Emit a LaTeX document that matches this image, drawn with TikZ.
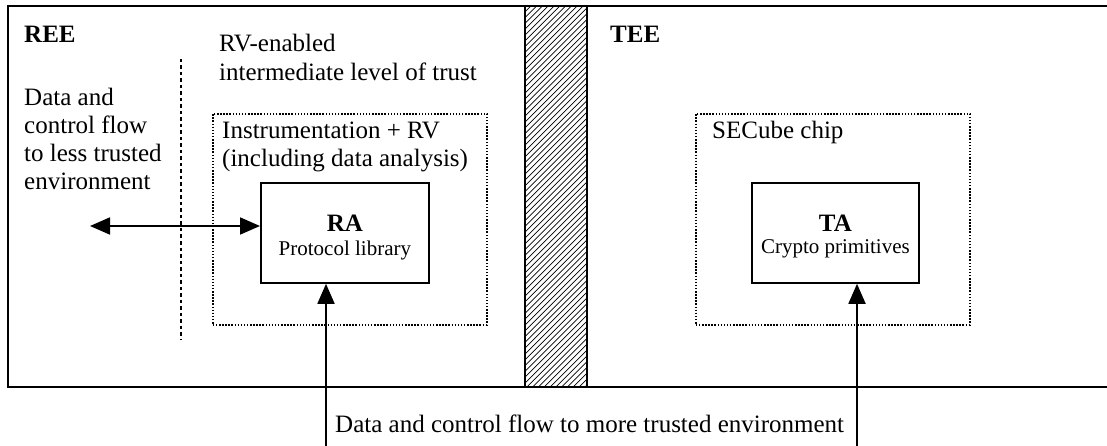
\documentclass[tikz,border=0pt]{standalone}
\usepackage{fontspec}
\setmainfont{Liberation Serif}
\usetikzlibrary{arrows.meta,calc}
\begin{document}
\begin{tikzpicture}[x=1pt,y=-1pt,
  txt/.style={inner sep=0pt,anchor=base west,font=\fontsize{25}{28}\selectfont},
  btxt/.style={inner sep=0pt,anchor=base west,font=\fontsize{25}{28}\selectfont\bfseries},
  dotbox/.style={draw,line width=1.6pt,dash pattern=on 1.5pt off 1.6pt,anchor=north west,inner sep=0pt},
  solidbox/.style={draw,line width=1.8pt,fill=white,anchor=north west,inner sep=0pt},
  lbl/.style={inner sep=0pt,anchor=base,font=\fontsize{21}{25}\selectfont},
  blbl/.style={inner sep=0pt,anchor=base,font=\fontsize{25}{25}\selectfont\bfseries},
  flow/.style={line width=1.8pt,-{Triangle[length=20pt,width=17pt]}},
  bflow/.style={line width=1.8pt,{Triangle[length=20pt,width=17pt]}-{Triangle[length=20pt,width=17pt]}}]
\useasboundingbox (0,0) rectangle (1107,446);
% frame
\draw[line width=2.2pt] (1112,6) -- (8,6) -- (8,387) -- (1112,387);
% hatched separator
\begin{scope}
\clip (525,6) rectangle (587,387);
\foreach \i in {0,5.8,...,460} {\draw[line width=0.7pt] (525,6+\i) -- (587,6+\i-62);}
\end{scope}
\draw[line width=2.2pt] (525,6) -- (525,387) (587,6) -- (587,387);
% labels
\node[btxt] (ree) at (24,43) {REE};
\node[btxt] (tee) at (610,43) {TEE};
\node[txt] (rv1) at (219,52) {RV-enabled};
\node[txt] (rv2) at (219,81) {intermediate level of trust};
\node[txt] (less1) at (24,106) {Data and};
\node[txt] (less2) at (24,134) {control flow};
\node[txt] (less3) at (24,162) {to less trusted};
\node[txt] (less4) at (24,190) {environment};
% dashed vertical line
\coordinate (dvt) at (181,59);
\coordinate (dvb) at (181,340);
\draw[line width=2.3pt,dash pattern=on 3.5pt off 3pt] (dvt) -- (dvb);
% dotted boxes
\node[dotbox,minimum width=274pt,minimum height=211pt] (rvbox) at (212,113) {};
\node[txt] (inst1) at (222,139) {Instrumentation + RV};
\node[txt] (inst2) at (222,167) {(including data analysis)};
\node[dotbox,minimum width=274pt,minimum height=211pt] (chipbox) at (695,113) {};
\node[txt] (chiptxt) at (712,139) {SECube chip};
% RA and TA
\node[solidbox,minimum width=168pt,minimum height=100pt] (ra) at (260,182) {};
\node[blbl] (ran) at ($(ra.north)+(0,50)$) {RA};
\node[lbl] (ral) at ($(ra.north)+(0,73)$) {Protocol library};
\node[solidbox,minimum width=167pt,minimum height=100pt] (ta) at (751,182) {};
\node[blbl] (tan) at ($(ta.north)+(0,50)$) {TA};
\node[lbl] (tal) at ($(ta.north)+(0,72)$) {Crypto primitives};
% arrows
\coordinate (lessend) at (90,226);
\draw[bflow] (lessend) -- (ra.west |- lessend);
\coordinate (rabot) at (326,450);
\coordinate (tabot) at (857,450);
\draw[flow] (rabot) -- (rabot |- ra.south);
\draw[flow] (tabot) -- (tabot |- ta.south);
\node[txt] (moretxt) at (335,432) {Data and control flow to more trusted environment};
\end{tikzpicture}
\end{document}
